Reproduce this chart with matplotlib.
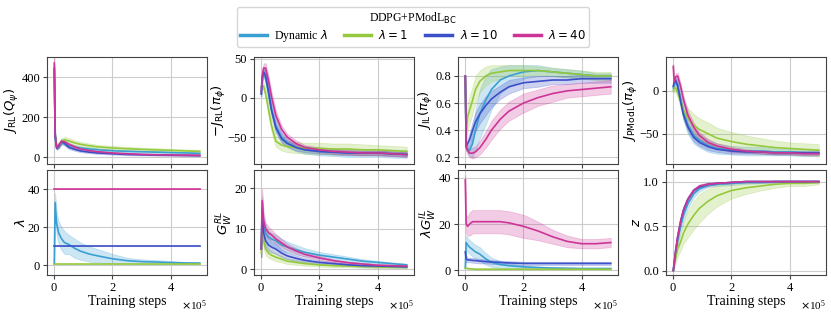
import matplotlib
matplotlib.use("Agg")
import matplotlib.pyplot as plt
from matplotlib.lines import Line2D
import numpy as np

plt.rcParams['font.family'] = ['Liberation Serif', 'DejaVu Serif']
plt.rcParams['mathtext.fontset'] = 'dejavusans'

# training steps (x 1e5)
steps = [0, 0.03, 0.08, 0.15, 0.25, 0.35, 0.5, 0.7, 0.9, 1.2, 1.5, 2.0, 2.5, 3.0, 3.5, 4.0, 4.5, 5.0]

labels = ['Dynamic $\\lambda$', '$\\lambda = 1$', '$\\lambda = 10$', '$\\lambda = 40$']
colors = ['#3a9fd2', '#95c93d', '#3a4fc8', '#cc3596']

# J_RL(Q_psi)
jq_dyn = [440, 120, 50, 55, 75, 70, 60, 52, 47, 42, 38, 33, 30, 28, 26, 24, 22, 20]
jq_dyn_sd = [20, 20, 10, 10, 12, 10, 10, 9, 8, 8, 7, 7, 6, 6, 6, 5, 5, 5]
jq_l1 = [430, 110, 55, 60, 80, 88, 82, 72, 65, 58, 52, 47, 43, 40, 37, 35, 32, 30]
jq_l1_sd = [20, 20, 12, 15, 15, 15, 15, 13, 12, 11, 10, 10, 9, 9, 9, 8, 8, 8]
jq_l10 = [445, 100, 45, 55, 80, 70, 50, 40, 32, 26, 22, 18, 15, 13, 12, 11, 10, 9]
jq_l10_sd = [20, 15, 8, 10, 10, 10, 8, 7, 6, 5, 5, 4, 4, 3, 3, 3, 3, 3]
jq_l40 = [470, 110, 50, 60, 80, 78, 65, 52, 42, 34, 28, 22, 18, 15, 13, 12, 11, 10]
jq_l40_sd = [25, 15, 8, 10, 10, 10, 8, 7, 6, 5, 5, 4, 4, 3, 3, 3, 3, 3]

# -J_RL(pi_phi)
jp_dyn = [5, 22, 32, 25, 5, -15, -35, -50, -57, -63, -66, -68, -69, -70, -70, -70, -71, -71]
jp_dyn_sd = [3, 5, 6, 6, 8, 8, 8, 6, 6, 5, 5, 5, 5, 5, 5, 5, 5, 5]
jp_l1 = [14, 16, 15, 5, -15, -35, -55, -60, -62, -63, -64, -64, -65, -65, -66, -66, -67, -68]
jp_l1_sd = [3, 4, 5, 6, 8, 8, 7, 7, 7, 7, 7, 7, 7, 7, 7, 6, 6, 6]
jp_l10 = [5, 25, 33, 28, 8, -15, -38, -52, -58, -63, -66, -68, -69, -70, -70, -70, -71, -72]
jp_l10_sd = [3, 5, 5, 5, 6, 6, 6, 5, 4, 4, 3, 3, 3, 3, 3, 3, 3, 3]
jp_l40 = [8, 28, 38, 38, 22, 2, -22, -40, -50, -58, -63, -66, -68, -69, -70, -70, -71, -72]
jp_l40_sd = [3, 5, 6, 6, 6, 6, 6, 5, 4, 4, 3, 3, 3, 3, 3, 3, 3, 3]

# J_IL(pi_phi)
ji_dyn = [0.8, 0.28, 0.26, 0.25, 0.3, 0.4, 0.52, 0.62, 0.7, 0.77, 0.8, 0.83, 0.84, 0.83, 0.82, 0.81, 0.8, 0.8]
ji_dyn_sd = [0, 0.03, 0.03, 0.04, 0.1, 0.15, 0.18, 0.18, 0.15, 0.1, 0.08, 0.05, 0.04, 0.03, 0.03, 0.03, 0.02, 0.02]
ji_l1 = [0.8, 0.35, 0.5, 0.55, 0.62, 0.7, 0.76, 0.8, 0.82, 0.83, 0.84, 0.84, 0.84, 0.83, 0.82, 0.81, 0.8, 0.8]
ji_l1_sd = [0, 0.08, 0.1, 0.1, 0.1, 0.1, 0.08, 0.07, 0.06, 0.05, 0.04, 0.04, 0.03, 0.03, 0.03, 0.03, 0.03, 0.03]
ji_l10 = [0.8, 0.28, 0.3, 0.33, 0.4, 0.46, 0.52, 0.58, 0.63, 0.68, 0.72, 0.75, 0.76, 0.77, 0.77, 0.78, 0.78, 0.78]
ji_l10_sd = [0, 0.02, 0.03, 0.05, 0.06, 0.07, 0.07, 0.07, 0.06, 0.05, 0.05, 0.04, 0.04, 0.03, 0.03, 0.03, 0.03, 0.03]
ji_l40 = [0.8, 0.27, 0.25, 0.23, 0.23, 0.24, 0.27, 0.33, 0.4, 0.48, 0.54, 0.6, 0.64, 0.67, 0.69, 0.7, 0.71, 0.72]
ji_l40_sd = [0, 0.02, 0.03, 0.03, 0.04, 0.04, 0.05, 0.06, 0.07, 0.07, 0.07, 0.07, 0.06, 0.06, 0.05, 0.05, 0.05, 0.05]

# J_PModL(pi_phi)
jm_dyn = [3, 8, 10, 5, -10, -25, -40, -52, -58, -64, -67, -69, -70, -70, -71, -71, -72, -72]
jm_dyn_sd = [3, 4, 5, 6, 8, 9, 10, 9, 8, 7, 6, 5, 5, 5, 4, 4, 4, 4]
jm_l1 = [0, 3, 3, -2, -12, -22, -32, -40, -45, -50, -55, -59, -62, -64, -66, -67, -68, -69]
jm_l1_sd = [3, 4, 5, 6, 8, 10, 12, 13, 13, 13, 12, 11, 10, 9, 8, 7, 7, 7]
jm_l10 = [5, 10, 12, 6, -12, -28, -42, -54, -60, -65, -68, -70, -71, -71, -72, -72, -72, -72]
jm_l10_sd = [2, 3, 3, 4, 5, 5, 5, 5, 4, 4, 3, 3, 2, 2, 2, 2, 2, 2]
jm_l40 = [28, 10, 16, 17, 5, -10, -28, -42, -52, -60, -64, -68, -70, -71, -72, -72, -73, -73]
jm_l40_sd = [3, 4, 4, 4, 4, 4, 5, 5, 4, 4, 3, 3, 2, 2, 2, 2, 2, 2]

# lambda
lam_dyn = [1, 33, 22, 17, 14, 12, 11, 9, 7.5, 6, 5, 3.5, 2.5, 2, 1.8, 1.5, 1.3, 1.2]
lam_dyn_sd = [0, 5, 6, 6, 6, 6, 5, 5, 4.5, 4, 3.5, 2.5, 1.5, 1.2, 1, 0.8, 0.6, 0.5]
lam_l1 = [1] * 18
lam_l10 = [10] * 18
lam_l40 = [40] * 18
lam_fixed_sd = [0] * 18

# G_W^RL
grl_dyn = [5, 15, 11, 9, 8, 7.5, 7, 6, 5.5, 4.8, 4.2, 3.5, 3, 2.5, 2, 1.7, 1.4, 1.1]
grl_dyn_sd = [2, 3, 2, 2, 1.5, 1.5, 1.5, 1.5, 1.3, 1.2, 1.0, 0.8, 0.7, 0.6, 0.5, 0.4, 0.3, 0.3]
grl_l1 = [4, 12, 7, 5, 4, 3.5, 3, 2.5, 2, 1.7, 1.4, 1.1, 0.9, 0.8, 0.7, 0.6, 0.5, 0.5]
grl_l1_sd = [1, 2, 2, 1.5, 1.2, 1, 1, 0.8, 0.7, 0.6, 0.5, 0.4, 0.4, 0.3, 0.3, 0.3, 0.2, 0.2]
grl_l10 = [5, 14, 9, 7, 6, 5.5, 5, 4, 3.3, 2.7, 2.2, 1.7, 1.4, 1.1, 0.9, 0.8, 0.7, 0.6]
grl_l10_sd = [2, 3, 2, 1.5, 1.5, 1.3, 1.2, 1, 0.8, 0.7, 0.6, 0.5, 0.4, 0.3, 0.3, 0.3, 0.2, 0.2]
grl_l40 = [5, 17, 12, 10, 9, 8.5, 7.5, 6.5, 5.5, 4.5, 3.7, 2.8, 2.1, 1.6, 1.3, 1.0, 0.9, 0.8]
grl_l40_sd = [2, 3, 2, 1.5, 1.5, 1.3, 1.2, 1, 0.8, 0.7, 0.6, 0.5, 0.4, 0.3, 0.3, 0.3, 0.2, 0.2]

# lambda * G_W^IL
gil_dyn = [1, 12, 11, 10, 9, 8, 7, 5, 3.5, 2.5, 2, 1.5, 1.2, 1, 0.9, 0.8, 0.8, 0.8]
gil_dyn_sd = [0.5, 3, 3, 3, 3, 3, 3, 2.5, 2, 1.5, 1, 0.7, 0.5, 0.4, 0.3, 0.3, 0.3, 0.3]
gil_l1 = [1, 1, 0.8, 0.7, 0.6, 0.5, 0.5, 0.5, 0.5, 0.5, 0.5, 0.5, 0.5, 0.5, 0.5, 0.5, 0.5, 0.5]
gil_l1_sd = [0.2] * 18
gil_l10 = [8, 5, 4.5, 4.5, 4.3, 4.2, 4, 3.8, 3.6, 3.4, 3.2, 3, 3, 3, 3, 3, 3, 3]
gil_l10_sd = [1.5, 1.5, 1, 1, 1, 1, 1, 0.8, 0.8, 0.8, 0.8, 0.7, 0.7, 0.7, 0.7, 0.7, 0.7, 0.7]
gil_l40 = [39, 20, 19, 20, 21, 21, 21, 21, 21, 21, 20.5, 19, 17, 14.5, 12.5, 11.5, 11.5, 12]
gil_l40_sd = [2, 4, 4, 5, 5, 5, 5, 5, 5, 5, 5, 5, 4, 3, 2.5, 2, 2, 2]

# z
z_dyn = [0, 0.08, 0.2, 0.35, 0.5, 0.62, 0.75, 0.86, 0.92, 0.96, 0.97, 0.98, 0.99, 0.99, 1, 1, 1, 1]
z_dyn_sd = [0, 0.03, 0.05, 0.06, 0.06, 0.06, 0.05, 0.04, 0.03, 0.02, 0.02, 0.02, 0.015, 0.01, 0.01, 0.01, 0.01, 0.01]
z_l1 = [0, 0.06, 0.14, 0.24, 0.32, 0.42, 0.52, 0.62, 0.7, 0.78, 0.84, 0.9, 0.93, 0.95, 0.97, 0.98, 0.98, 0.99]
z_l1_sd = [0, 0.03, 0.06, 0.08, 0.1, 0.12, 0.15, 0.16, 0.16, 0.14, 0.12, 0.09, 0.07, 0.05, 0.04, 0.03, 0.03, 0.02]
z_l10 = [0, 0.08, 0.22, 0.38, 0.55, 0.68, 0.8, 0.9, 0.94, 0.97, 0.98, 0.99, 1, 1, 1, 1, 1, 1]
z_l10_sd = [0, 0.02, 0.04, 0.04, 0.04, 0.04, 0.03, 0.02, 0.02, 0.02, 0.01, 0.01, 0.01, 0.01, 0.01, 0.01, 0.01, 0.01]
z_l40 = [0, 0.08, 0.22, 0.38, 0.55, 0.68, 0.8, 0.9, 0.95, 0.97, 0.98, 0.99, 1, 1, 1, 1, 1, 1]
z_l40_sd = [0, 0.02, 0.04, 0.04, 0.04, 0.04, 0.03, 0.02, 0.02, 0.02, 0.01, 0.01, 0.01, 0.01, 0.01, 0.01, 0.01, 0.01]

panels = [
    ('$J_{\\mathrm{RL}}(Q_\\psi)$', [jq_dyn, jq_l1, jq_l10, jq_l40], [jq_dyn_sd, jq_l1_sd, jq_l10_sd, jq_l40_sd], (-33, 500), [0, 200, 400], None),
    ('$-J_{\\mathrm{RL}}(\\pi_\\phi)$', [jp_dyn, jp_l1, jp_l10, jp_l40], [jp_dyn_sd, jp_l1_sd, jp_l10_sd, jp_l40_sd], (-84, 52), [-50, 0, 50], None),
    ('$J_{\\mathrm{IL}}(\\pi_\\phi)$', [ji_dyn, ji_l1, ji_l10, ji_l40], [ji_dyn_sd, ji_l1_sd, ji_l10_sd, ji_l40_sd], (0.15, 0.94), [0.2, 0.4, 0.6, 0.8], '%.1f'),
    ('$J_{\\mathrm{PModL}}(\\pi_\\phi)$', [jm_dyn, jm_l1, jm_l10, jm_l40], [jm_dyn_sd, jm_l1_sd, jm_l10_sd, jm_l40_sd], (-85, 39), [-50, 0], None),
    ('$\\lambda$', [lam_dyn, lam_l1, lam_l10, lam_l40], [lam_dyn_sd, lam_fixed_sd, lam_fixed_sd, lam_fixed_sd], (-5, 50), [0, 20, 40], None),
    ('$G_W^{RL}$', [grl_dyn, grl_l1, grl_l10, grl_l40], [grl_dyn_sd, grl_l1_sd, grl_l10_sd, grl_l40_sd], (-1.4, 24.5), [0, 10, 20], None),
    ('$\\lambda G_W^{IL}$', [gil_dyn, gil_l1, gil_l10, gil_l40], [gil_dyn_sd, gil_l1_sd, gil_l10_sd, gil_l40_sd], (-2, 43.3), [0, 20, 40], None),
    ('$z$', [z_dyn, z_l1, z_l10, z_l40], [z_dyn_sd, z_l1_sd, z_l10_sd, z_l40_sd], (-0.05, 1.13), [0.0, 0.5, 1.0], '%.1f'),
]

fig = plt.figure(figsize=(8.31, 3.12), dpi=100)
lefts = [47, 254, 458, 666]
W, H = 831, 312
x = np.array(steps) * 1e5

for i, (ylab, means, sds, ylim, yticks, fmt) in enumerate(panels):
    row, col = divmod(i, 4)
    if row == 0:
        top, bot = 57, 164
    else:
        top, bot = 170, 275
    ax = fig.add_axes([lefts[col] / W, 1 - bot / H, 160 / W, (bot - top) / H])
    for m, s, c in zip(means, sds, colors):
        m = np.array(m, dtype=float)
        s = np.array(s, dtype=float)
        ax.fill_between(x, m - s, m + s, color=c, alpha=0.25, lw=0.6, edgecolor=c)
        ax.plot(x, m, color=c, lw=1.2)
    ax.set_xlim(-0.25e5, 5.25e5)
    ax.set_ylim(*ylim)
    ax.set_yticks(yticks)
    if fmt:
        ax.set_yticklabels([fmt % v for v in yticks])
    ax.set_xticks([0, 2e5, 4e5])
    ax.grid(True, color='#cccccc', lw=0.8)
    ax.set_axisbelow(True)
    ax.tick_params(labelsize=9, length=3, pad=2, color='#444444')
    for sp in ax.spines.values():
        sp.set_color('#444444')
    ax.set_ylabel(ylab, fontsize=9.5, labelpad=0)
    if row == 0:
        ax.set_xticklabels([])
    else:
        ax.ticklabel_format(style='sci', axis='x', scilimits=(0, 0), useMathText=True)
        ax.xaxis.get_offset_text().set_fontsize(8)
        ax.set_xlabel('Training steps', fontsize=10, labelpad=1)

handles = [Line2D([0], [0], color=c, lw=2.5) for c in colors]
fig.legend(handles, labels, loc='upper center', bbox_to_anchor=(0.497, 0.995), ncol=4,
           title='DDPG+PModL$_{\\mathrm{BC}}$', fontsize=8.5, title_fontsize=8.5,
           frameon=True, handlelength=2.3, columnspacing=1.4, borderpad=0.25,
           labelspacing=0.2, handletextpad=0.6)

fig.savefig('out.png', dpi=100)
